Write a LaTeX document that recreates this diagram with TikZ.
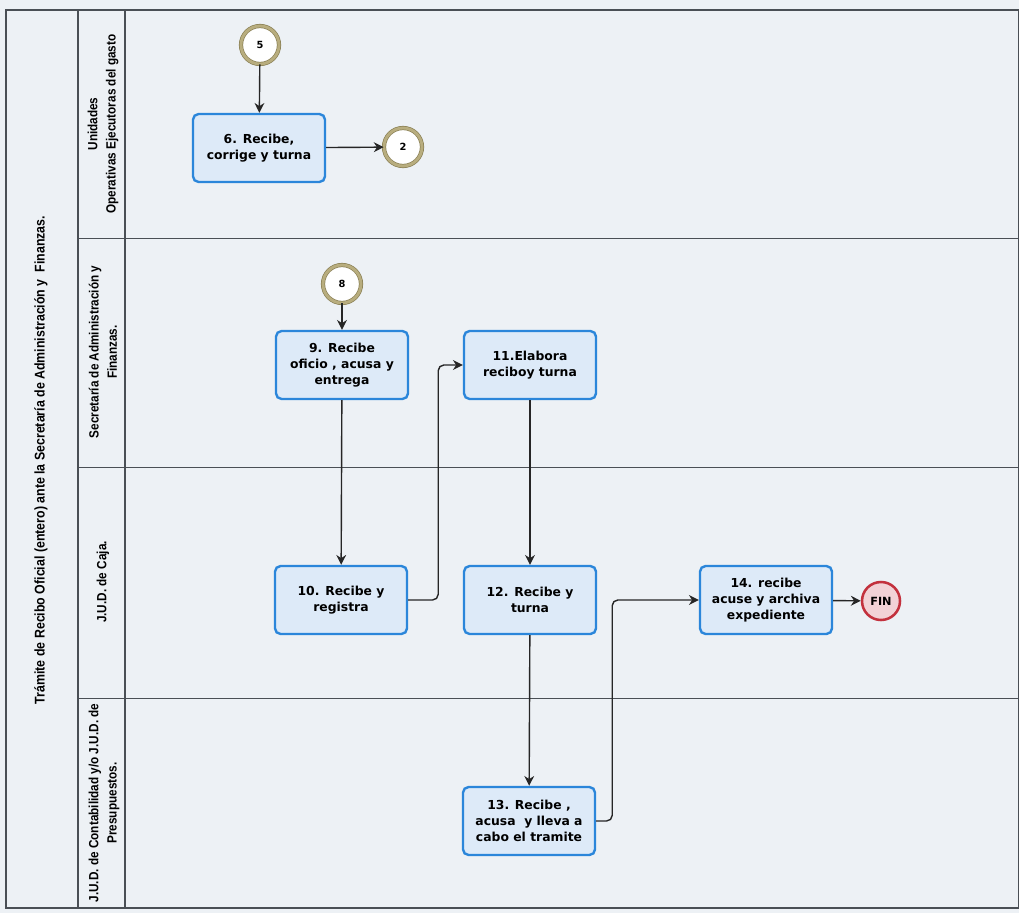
\documentclass[tikz,border=0pt]{standalone}
\usepackage{fontspec}
\usepackage{tikz}
\usetikzlibrary{arrows.meta,positioning,shapes}
\newfontfamily\boxfont{DejaVu Sans}
\newfontfamily\condfont{Liberation Sans}[FakeStretch=0.88]
\definecolor{pagebg}{HTML}{EDF1F5}
\definecolor{boxfill}{HTML}{DDEAF8}
\definecolor{boxline}{HTML}{2B86DA}
\definecolor{ringc}{HTML}{B8AD7E}
\definecolor{ringd}{HTML}{8A8055}
\definecolor{finline}{HTML}{C3313D}
\definecolor{finfill}{HTML}{F2D2D6}
\definecolor{framec}{HTML}{4A4F55}

\begin{document}
\begin{tikzpicture}[x=0.025cm,y=-0.025cm,
  b/.style={rectangle,rounded corners=4pt,draw=boxline,fill=boxfill,line width=1.7pt,minimum width=3.3cm,minimum height=1.7cm,align=center,font=\boxfont\bfseries\fontsize{8.8}{11.5}\selectfont,inner sep=1pt},
  c/.style={circle,draw=ringd,double=ringc,double distance=2pt,line width=0.5pt,fill=white,minimum size=0.95cm,inner sep=0pt,font=\boxfont\bfseries\scriptsize},
  e/.style={circle,draw=finline,line width=1.8pt,fill=finfill,minimum size=0.95cm,inner sep=0pt,font=\boxfont\bfseries\footnotesize},
  lbl/.style={rotate=90,align=center,font=\condfont\bfseries\fontsize{9.5}{13}\selectfont},
  a/.style={-{Stealth[length=7pt,width=7pt]},line width=1pt,black!85}]
\useasboundingbox (0,0) rectangle (1019,913);
\fill[pagebg] (0,0) rectangle (1019,913);
% --- frame and lanes ---
\draw[framec,line width=0.8pt] (6,10) rectangle (1019,908);
\draw[framec,line width=0.8pt] (78,10) -- (78,908) (125,10) -- (125,908);
\draw[framec,line width=0.6pt] (78,238) -- (1019,238) (78,467) -- (1019,467) (78,698) -- (1019,698);
\node[lbl,font=\condfont\bfseries\fontsize{10}{13}\selectfont] (title) at (41,460) {Trámite de Recibo Oficial (entero) ante la Secretaría de Administración y\ \ Finanzas.};
\node[lbl] (L1) at (103,124) {Unidades\\Operativas Ejecutoras del gasto};
\node[lbl] (L2) at (103,352) {Secretaría de Administración y\\Finanzas.};
\node[lbl] (L3) at (103,582) {J.U.D. de Caja.};
\node[lbl] (L4) at (104,803) {J.U.D. de Contabilidad y/o J.U.D. de\\Presupuestos.};
% --- lane 1 ---
\node[c] (r5) at (260,45) {5};
\node[b] (n6) at (259,148) {6. Recibe,\\corrige y turna};
\node[c] (r2) at (403,147) {2};
\draw[a] (r5)--(n6);\draw[a] (n6)--(r2);
% --- lane 2 ---
\node[c] (r8) at (342,284) {8};
\node[b] (n9) at (342,365) {9. Recibe\\oficio , acusa y\\entrega};
\node[b] (n11) at (530,365) {11.Elabora\\reciboy turna};
% --- lane 3 ---
\node[b] (n10) at (341,600) {10. Recibe y\\registra};
\node[b] (n12) at (530,600) {12. Recibe y\\turna};
\node[b] (n14) at (766,600) {14. recibe\\acuse y archiva\\expediente};
\node[e] (fin) at (881,601) {FIN};
% --- lane 4 ---
\node[b] (n13) at (529,821) {13. Recibe ,\\acusa\ \ y lleva a\\cabo el tramite};
% --- flow ---
\draw[a] (r8)--(n9);\draw[a] (n9)--(n10);
\draw[a,rounded corners=4pt] (n10.east) -- ++(30,0) |- (n11.west);
\draw[a] (n11)--(n12);\draw[a] (n12)--(n13);
\draw[a,rounded corners=4pt] (n13.east) -- ++(16,0) |- (n14.west);
\draw[a] (n14)--(fin);
\end{tikzpicture}
\end{document}
